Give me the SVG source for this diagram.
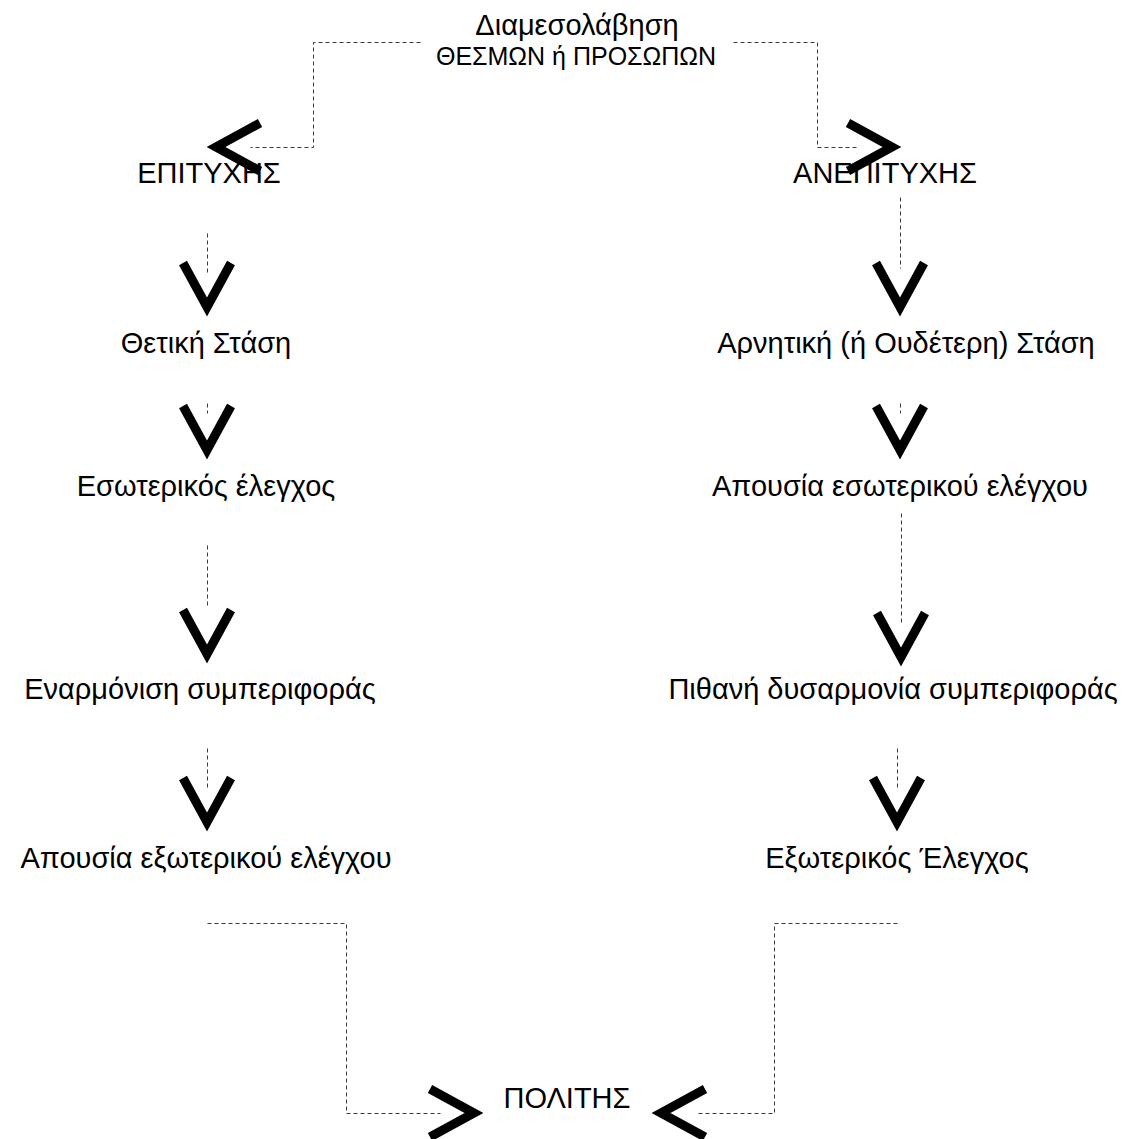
<svg xmlns="http://www.w3.org/2000/svg" xmlns:xlink="http://www.w3.org/1999/xlink" width="1136" height="1139" viewBox="0 0 1136 1139">
  <style>
    .t { font-family: "Liberation Sans", Arial, sans-serif; font-size: 29px; fill: #000; text-anchor: middle; }
    .sub { font-size: 25px; }
    .dash { fill: none; stroke: #3a3a3a; stroke-width: 1; stroke-dasharray: 4 3; }
    .chev { fill: none; stroke: #000; stroke-width: 9; stroke-linejoin: miter; stroke-miterlimit: 10; stroke-linecap: butt; }
  </style>
  <defs>
    <polyline id="vdown" class="chev" points="-24,-44 0,0 24,-44"/>
    <polyline id="vleft" class="chev" points="44,-24 0,0 44,24"/>
    <polyline id="vright" class="chev" points="-44,-24 0,0 -44,24"/>
  </defs>
  <rect width="1136" height="1139" fill="#fff"/>

  <g id="connectors">
    <g transform="translate(0.5,0.5)">
      <polyline class="dash" points="420,42 313,42 313,147 250,147"/>
      <polyline class="dash" points="733,42 817,42 817,147 858,147"/>
      <line class="dash" x1="207" y1="233" x2="207" y2="272"/>
      <line class="dash" x1="900" y1="197" x2="900" y2="268"/>
      <line class="dash" x1="207" y1="403" x2="207" y2="413"/>
      <line class="dash" x1="900" y1="403" x2="900" y2="413"/>
      <line class="dash" x1="207" y1="545" x2="207" y2="605"/>
      <line class="dash" x1="901" y1="513" x2="901" y2="623"/>
      <line class="dash" x1="207" y1="748" x2="207" y2="790"/>
      <line class="dash" x1="897" y1="748" x2="897" y2="790"/>
      <polyline class="dash" points="207,923 346,923 346,1113 440,1113"/>
      <polyline class="dash" points="897,923 774,923 774,1113 695,1113"/>
    </g>
    <use xlink:href="#vleft" x="216" y="147"/>
    <use xlink:href="#vright" x="892" y="147"/>
    <use xlink:href="#vdown" x="207" y="307"/>
    <use xlink:href="#vdown" x="900" y="307"/>
    <use xlink:href="#vdown" x="207" y="450"/>
    <use xlink:href="#vdown" x="900" y="450"/>
    <use xlink:href="#vdown" x="207" y="654"/>
    <use xlink:href="#vdown" x="901" y="657"/>
    <use xlink:href="#vdown" x="207" y="822"/>
    <use xlink:href="#vdown" x="897" y="822"/>
    <use xlink:href="#vright" x="474" y="1113"/>
    <use xlink:href="#vleft" x="661" y="1113"/>
  </g>

  <g id="node-mediation">
    <text class="t" x="577" y="35">Διαμεσολάβηση</text>
    <text class="t sub" x="576" y="65">ΘΕΣΜΩΝ ή ΠΡΟΣΩΠΩΝ</text>
  </g>
  <g id="node-success"><text class="t" x="209" y="183">ΕΠΙΤΥΧΗΣ</text></g>
  <g id="node-failure"><text class="t" x="885" y="183">ΑΝΕΠΙΤΥΧΗΣ</text></g>
  <g id="node-positive"><text class="t" x="206" y="353">Θετική Στάση</text></g>
  <g id="node-negative"><text class="t" x="906" y="353">Αρνητική (ή Ουδέτερη) Στάση</text></g>
  <g id="node-internal"><text class="t" x="206" y="496">Εσωτερικός έλεγχος</text></g>
  <g id="node-no-internal"><text class="t" x="900" y="496">Απουσία εσωτερικού ελέγχου</text></g>
  <g id="node-harmony"><text class="t" x="200" y="699">Εναρμόνιση συμπεριφοράς</text></g>
  <g id="node-disharmony"><text class="t" x="893" y="699">Πιθανή δυσαρμονία συμπεριφοράς</text></g>
  <g id="node-no-external"><text class="t" x="206" y="868">Απουσία εξωτερικού ελέγχου</text></g>
  <g id="node-external"><text class="t" x="897" y="868">Εξωτερικός Έλεγχος</text></g>
  <g id="node-citizen"><text class="t" x="567" y="1108">ΠΟΛΙΤΗΣ</text></g>
</svg>
